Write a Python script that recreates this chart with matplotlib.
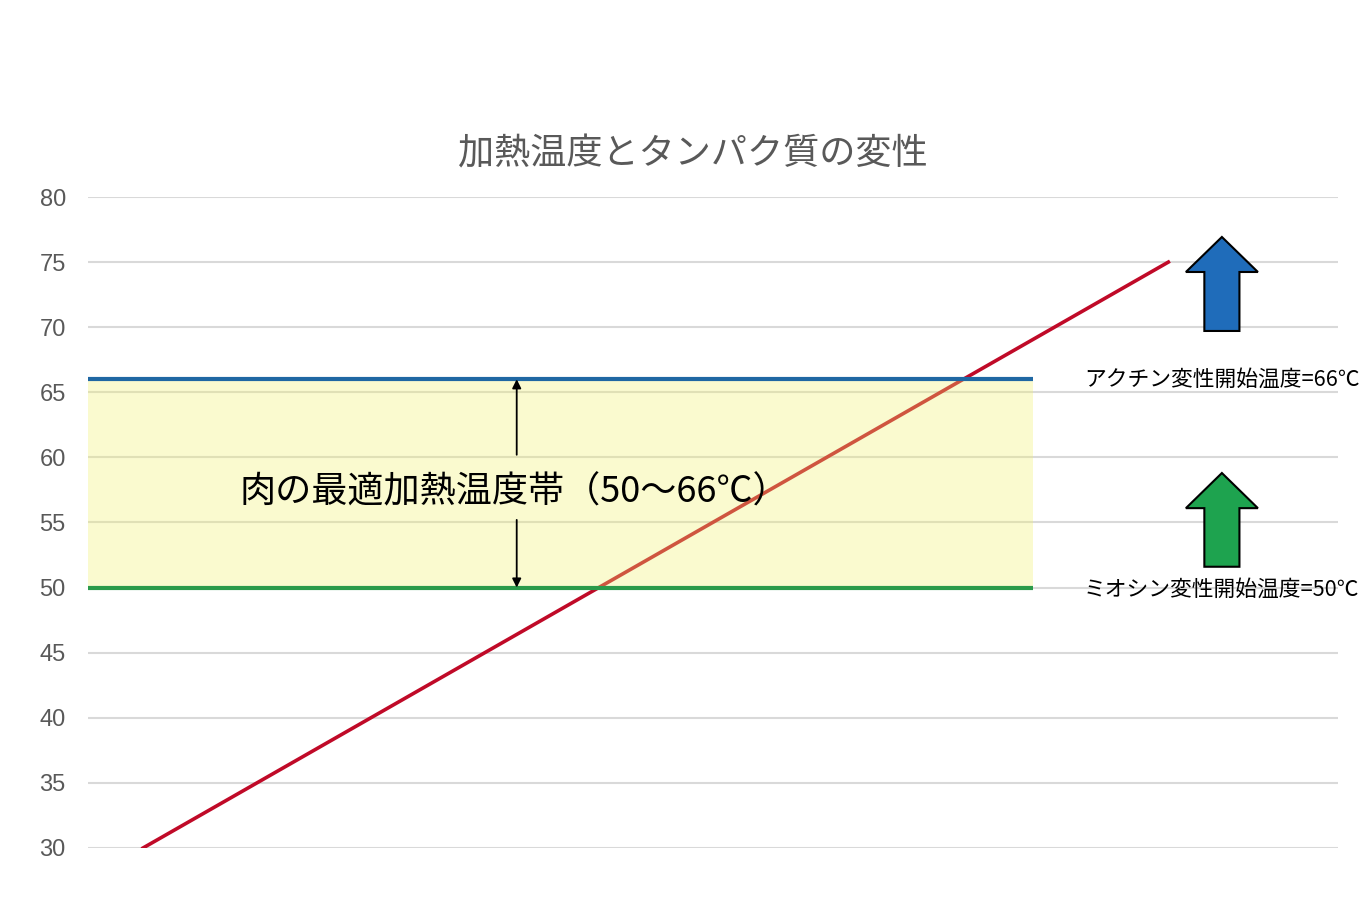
import matplotlib.pyplot as plt
from matplotlib.patches import Polygon

plt.rcParams['font.family'] = ['Noto Sans CJK JP', 'DejaVu Sans']

# data
title = "加熱温度とタンパク質の変性"
x_pos = [0, 1, 2, 3, 4, 5, 6, 7, 8, 9]
temps = [30, 35, 40, 45, 50, 55, 60, 65, 70, 75]
myosin_temp = 50
actin_temp = 66
band_label = "肉の最適加熱温度帯（50〜66℃）"
actin_label = "アクチン変性開始温度=66℃"
myosin_label = "ミオシン変性開始温度=50℃"
y_ticks = [30, 35, 40, 45, 50, 55, 60, 65, 70, 75, 80]

fig = plt.figure(figsize=(13.71, 9.21), dpi=100)
ax = fig.add_axes([0.0642, 0.0793, 0.9118, 0.7068])

x_left, x_right = -0.483, 10.49
ref_end = 7.81

ax.set_xlim(x_left, x_right)
ax.set_ylim(30, 80)
ax.set_yticks(y_ticks)
ax.set_xticks([])
for s in ax.spines.values():
    s.set_visible(False)
ax.grid(axis='y', color='#d9d9d9', linewidth=1.5, zorder=0)
ax.tick_params(axis='y', length=0, pad=16, labelsize=17, labelcolor='#595959')
for lbl in ax.get_yticklabels():
    lbl.set_family(['Liberation Sans', 'DejaVu Sans'])

# heating line
ax.plot(x_pos, temps, color='#c00a28', linewidth=2.6, zorder=2)

# optimal band, drawn over the line
ax.fill_between([x_left, ref_end], myosin_temp, actin_temp,
                color='#f0f070', alpha=0.33, linewidth=0, zorder=3)

# reference lines
ax.plot([x_left, ref_end], [actin_temp, actin_temp], color='#1f67a3',
        linewidth=3, zorder=4, solid_capstyle='butt')
ax.plot([x_left, ref_end], [myosin_temp, myosin_temp], color='#2a9a4a',
        linewidth=3, zorder=4, solid_capstyle='butt')

# double arrow, broken around the band text
arrow_x = 3.28
ap = dict(arrowstyle='-|>', color='black', lw=1.3, mutation_scale=13,
          shrinkA=0, shrinkB=0)
ax.annotate('', xy=(arrow_x, actin_temp), xytext=(arrow_x, 60.2),
            arrowprops=ap, zorder=5)
ax.annotate('', xy=(arrow_x, myosin_temp), xytext=(arrow_x, 55.2),
            arrowprops=ap, zorder=5)
ax.text(0.85, 57.3, band_label, fontsize=26, color='black', ha='left',
        va='center', zorder=6)

# block arrows
def up_arrow(xc, tip, head_base, bottom, color):
    hw, sw = 0.316, 0.154
    pts = [(xc, tip), (xc + hw, head_base), (xc + sw, head_base),
           (xc + sw, bottom), (xc - sw, bottom), (xc - sw, head_base),
           (xc - hw, head_base)]
    ax.add_patch(Polygon(pts, closed=True, facecolor=color, edgecolor='black',
                         linewidth=1.5, clip_on=False, zorder=6))

up_arrow(9.47, 76.93, 74.24, 69.71, '#1f6cba')
up_arrow(9.47, 58.8, 56.1, 51.6, '#1ea34f')

ax.text(8.26, actin_temp, actin_label, fontsize=15.7, ha='left', va='center',
        color='black', clip_on=False, zorder=6)
ax.text(8.26, myosin_temp - 0.2, myosin_label, fontsize=15.7, ha='left',
        va='center', color='black', clip_on=False, zorder=6)

fig.text(0.505, 0.832, title, fontsize=26, color='#595959', ha='center',
         va='center')

fig.savefig('out.png', dpi=100)
